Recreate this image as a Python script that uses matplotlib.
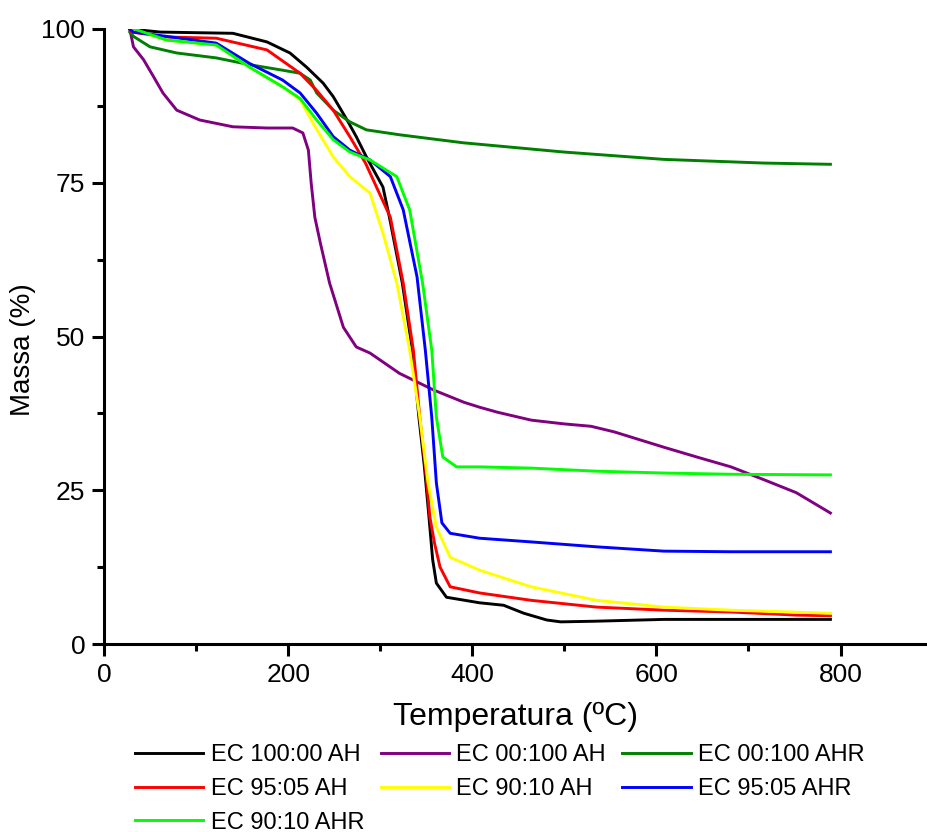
import matplotlib
matplotlib.use("Agg")
import matplotlib.pyplot as plt
from matplotlib.ticker import MultipleLocator

plt.rcParams['font.family'] = ['Liberation Sans', 'DejaVu Sans']

# ---- data ----
black_T = [28, 61, 140, 177, 202, 220, 238, 249, 264, 274, 285, 303, 310, 324, 335, 342,
           348, 353, 357, 361, 372, 408, 434, 456, 481, 496, 532, 608, 700, 789]
black_m = [100, 99.5, 99.3, 97.9, 96.1, 93.8, 91.2, 89, 85.2, 82.5, 79.2, 74.3, 69.4, 58.7, 47.8, 36.9,
           28.8, 20.6, 13.7, 9.9, 7.6, 6.7, 6.3, 5.0, 3.9, 3.6, 3.7, 4.0, 4.0, 4.0]

purple_T = [28, 32, 43, 54, 64, 79, 104, 140, 177, 205, 216, 222, 225, 229, 235, 245, 260, 274,
            289, 321, 358, 391, 408, 427, 464, 499, 529, 554, 608, 644, 681, 717, 752, 789]
purple_m = [100, 97.1, 95, 92.2, 89.6, 86.8, 85.2, 84.1, 83.9, 83.9, 83.1, 80.3, 75, 69.4, 65.2, 58.7, 51.5, 48.3,
            47.3, 44, 41.3, 39.3, 38.5, 37.7, 36.4, 35.8, 35.4, 34.5, 32, 30.4, 28.8, 26.7, 24.6, 21.3]

dgreen_T = [28, 32, 50, 79, 122, 158, 194, 213, 224, 231, 249, 267, 285, 321, 390, 499, 608, 717, 789]
dgreen_m = [99.5, 98.8, 97.1, 96.1, 95.3, 94.2, 93.3, 92.8, 91.7, 89.6, 86.8, 84.9, 83.6, 82.8, 81.5, 80,
            78.8, 78.2, 78]

red_T = [30, 68, 122, 177, 213, 231, 249, 267, 284, 311, 325, 336, 343, 349, 354, 359, 365, 376,
         408, 464, 535, 608, 681, 752, 789]
red_m = [99.5, 98.7, 98.5, 96.6, 92.8, 90, 86.8, 82.5, 78.2, 69.4, 58.7, 47.8, 36.9, 28.8, 20.6, 16.4, 12.5, 9.3,
         8.3, 7.1, 6.0, 5.5, 5.2, 4.7, 4.6]

yellow_T = [30, 68, 122, 158, 194, 213, 227, 249, 267, 289, 303, 318, 332, 343, 352, 361,
            376, 408, 464, 535, 608, 681, 789]
yellow_m = [100, 98.2, 97.4, 93.8, 90.6, 88.5, 84.7, 79.2, 76, 73.3, 66.8, 58.7, 47.8, 36.9, 26.2, 19,
            14.1, 12.0, 9.3, 7.1, 6.0, 5.5, 5.0]

blue_T = [28, 32, 68, 122, 158, 194, 213, 231, 249, 267, 289, 311, 325, 340, 349, 356, 361,
          367, 376, 408, 464, 535, 608, 681, 789]
blue_m = [100, 99.5, 98.8, 97.7, 94.4, 91.7, 89.6, 86.3, 82.5, 80.3, 78.7, 76, 70.6, 59.7, 47.8, 36.9, 26.2,
          19.7, 18, 17.2, 16.6, 15.8, 15.1, 15.0, 15.0]

lime_T = [33, 68, 122, 158, 194, 213, 231, 249, 267, 289, 318, 332, 346, 356, 361, 368, 383,
          408, 464, 535, 608, 681, 789]
lime_m = [100, 98.2, 97.4, 93.8, 90.6, 88.7, 85.2, 82, 80, 78.7, 76, 70.6, 58.7, 47.8, 36.9, 30.4, 28.8,
          28.8, 28.6, 28.1, 27.8, 27.6, 27.5]

labels = ["EC 100:00 AH", "EC 00:100 AH", "EC 00:100 AHR", "EC 95:05 AH",
          "EC 90:10 AH", "EC 95:05 AHR", "EC 90:10 AHR"]
colors = ["#000000", "#800080", "#008000", "#FF0000", "#FFFF00", "#0000FF", "#00FF00"]
series = [(black_T, black_m), (purple_T, purple_m), (dgreen_T, dgreen_m), (red_T, red_m),
          (yellow_T, yellow_m), (blue_T, blue_m), (lime_T, lime_m)]

xticks = [0, 200, 400, 600, 800]
yticks = [0, 25, 50, 75, 100]

# ---- figure ----
fig = plt.figure(figsize=(9.28, 8.32), dpi=100)
ax = fig.add_axes([104/928, 1 - 644/832, 1 - 104/928, (644 - 29)/832])

handles = {}
for (T, m), lab, c in zip(series, labels, colors):
    h, = ax.plot(T, m, color=c, lw=2.1, solid_joinstyle='round')
    handles[lab] = h

ax.set_xlim(0, 895)
ax.set_ylim(0, 100)
ax.set_xticks(xticks)
ax.set_yticks(yticks)
ax.xaxis.set_minor_locator(MultipleLocator(100))
ax.yaxis.set_minor_locator(MultipleLocator(12.5))
for s in ['top', 'right']:
    ax.spines[s].set_visible(False)
for s in ['left', 'bottom']:
    ax.spines[s].set_linewidth(2.2)
ax.tick_params(which='major', direction='out', length=8.5, width=2.2, labelsize=19, pad=5)
ax.tick_params(which='minor', direction='out', length=5, width=2.2)

ax.set_xlabel("Temperatura (ºC)", fontsize=23, labelpad=11)
ax.set_ylabel("Massa (%)", fontsize=20)
ax.yaxis.set_label_coords(-0.083, 0.478)

order = ["EC 100:00 AH", "EC 95:05 AH", "EC 90:10 AHR", "EC 00:100 AH",
         "EC 90:10 AH", "EC 00:100 AHR", "EC 95:05 AHR"]
fig.legend([handles[k] for k in order], order, ncol=3, loc='upper left',
           bbox_to_anchor=(135/928, 1 - 744/832), frameon=False, fontsize=17,
           handlelength=2.9, handletextpad=0.3, columnspacing=0.7,
           labelspacing=0.5, borderpad=0, borderaxespad=0)

fig.savefig("out.png", dpi=100)
